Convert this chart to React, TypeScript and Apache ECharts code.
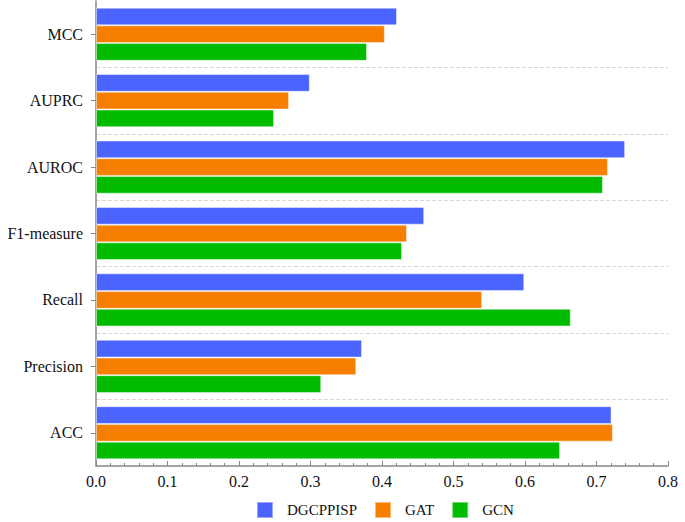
import React, { useEffect, useRef } from "react";
import * as echarts from "echarts";

const categories = ["ACC", "Precision", "Recall", "F1-measure", "AUROC", "AUPRC", "MCC"];
const seriesNames = ["DGCPPISP", "GAT", "GCN"];
const dgcppisp = [0.721, 0.372, 0.599, 0.459, 0.74, 0.299, 0.421];
const gat = [0.723, 0.364, 0.54, 0.435, 0.716, 0.27, 0.404];
const gcn = [0.649, 0.315, 0.664, 0.428, 0.709, 0.249, 0.379];
const colors = ["#4B63FF", "#F77F00", "#00BB00"];

const FONT = "Liberation Serif";

export default function App() {
  const ref = useRef<HTMLDivElement>(null);
  useEffect(() => {
    if (!ref.current) return;
    const chart = echarts.init(ref.current, undefined, { renderer: "svg" });
    const values = [dgcppisp, gat, gcn];
    chart.setOption({
      animation: false,
      backgroundColor: "#ffffff",
      grid: { left: 96, right: 17, top: 1, bottom: 56, containLabel: false },
      legend: {
        data: seriesNames,
        left: 256,
        bottom: 3,
        padding: 0,
        icon: "rect",
        itemWidth: 16,
        itemHeight: 16,
        itemGap: 17,
        textStyle: { fontFamily: FONT, fontSize: 15, color: "#111", padding: [0, 0, 0, 9] },
      },
      xAxis: {
        type: "value",
        min: 0,
        max: 0.8,
        interval: 0.1,
        axisLine: { show: true, lineStyle: { color: "#888", width: 1.5 } },
        axisTick: { show: true, inside: true, length: 5, lineStyle: { color: "#888" } },
        minorTick: { show: true, splitNumber: 5, length: 3, lineStyle: { color: "#888" } },
        splitLine: { show: false },
        axisLabel: {
          fontFamily: FONT,
          fontSize: 16,
          color: "#111",
          margin: 7,
          formatter: (v: number) => v.toFixed(1),
        },
      },
      yAxis: {
        type: "category",
        data: categories,
        axisLine: { show: true, lineStyle: { color: "#888", width: 1.5 } },
        axisTick: { show: true, alignWithLabel: true, length: 5, lineStyle: { color: "#888" } },
        splitLine: {
          show: true,
          showMaxLine: false,
          showMinLine: false,
          lineStyle: { color: "#d8d8d8", type: "dashed", width: 1 },
        },
        axisLabel: { fontFamily: FONT, fontSize: 16, color: "#111", margin: 13 },
      },
      series: values.map((vals, i) => ({
        name: seriesNames[i],
        type: "bar",
        data: vals,
        barGap: "0%",
        barCategoryGap: "20%",
        itemStyle: { color: colors[i], borderColor: "rgba(255,255,255,0.45)", borderWidth: 1 },
      })),
    });
    return () => chart.dispose();
  }, []);
  return (
    <div style={{ position: "absolute", left: 0, top: 0 }}>
      <div ref={ref} style={{ width: 685, height: 522 }} />
    </div>
  );
}
